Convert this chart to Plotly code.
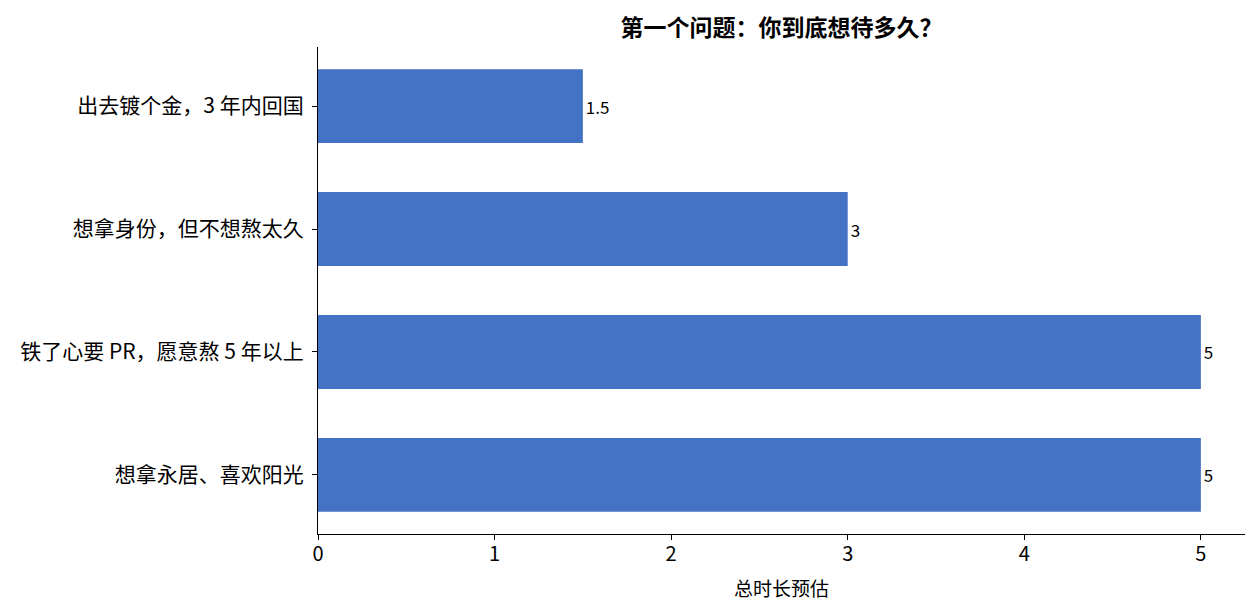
import plotly.graph_objects as go

categories = ["出去镀个金，3 年内回国", "想拿身份，但不想熬太久", "铁了心要 PR，愿意熬 5 年以上", "想拿永居、喜欢阳光"]
values = [1.5, 3, 5, 5]
labels = ["1.5", "3", "5", "5"]
x_ticks = [0, 1, 2, 3, 4, 5]

FONT = "Noto Sans CJK SC, Microsoft YaHei, sans-serif"

# page body has an 8px margin; compensate so the plot lands at the reference pixels
W, H = 1252, 607

fig = go.Figure(go.Bar(
    x=values, y=categories, orientation="h", width=0.6,
    marker=dict(color="#4472C4", line=dict(width=0)),
    text=labels, textposition="outside", cliponaxis=False,
    textfont=dict(size=17, color="#000000", family=FONT),
))

fig.update_layout(
    width=W, height=H,
    margin=dict(l=310, r=15, t=39, b=81),
    plot_bgcolor="white", paper_bgcolor="white",
    font=dict(family=FONT, color="#000000"),
    title=dict(text="<b>第一个问题：你到底想待多久？</b>", x=773.5 / W, xanchor="center",
               y=1 - 20 / H, yanchor="middle", font=dict(size=23, family=FONT)),
    showlegend=False,
)
fig.update_xaxes(range=[0, 5.25], tickvals=x_ticks, showgrid=False, zeroline=False,
                 showline=True, linecolor="#000000", linewidth=1.2,
                 ticks="outside", ticklen=5, tickcolor="#000000", tickwidth=1.2,
                 ticklabelstandoff=-3,
                 tickfont=dict(size=20, family=FONT),
                 title=dict(text="总时长预估", font=dict(size=19, family=FONT), standoff=16))
fig.update_yaxes(categoryorder="array", categoryarray=categories, range=[3.48, -0.48],
                 showgrid=False, zeroline=False,
                 showline=True, linecolor="#000000", linewidth=1.2,
                 ticks="outside", ticklen=5, tickcolor="#000000", tickwidth=1.2,
                 ticklabelstandoff=4,
                 tickfont=dict(size=21, family=FONT))

fig.write_html("out.html")
